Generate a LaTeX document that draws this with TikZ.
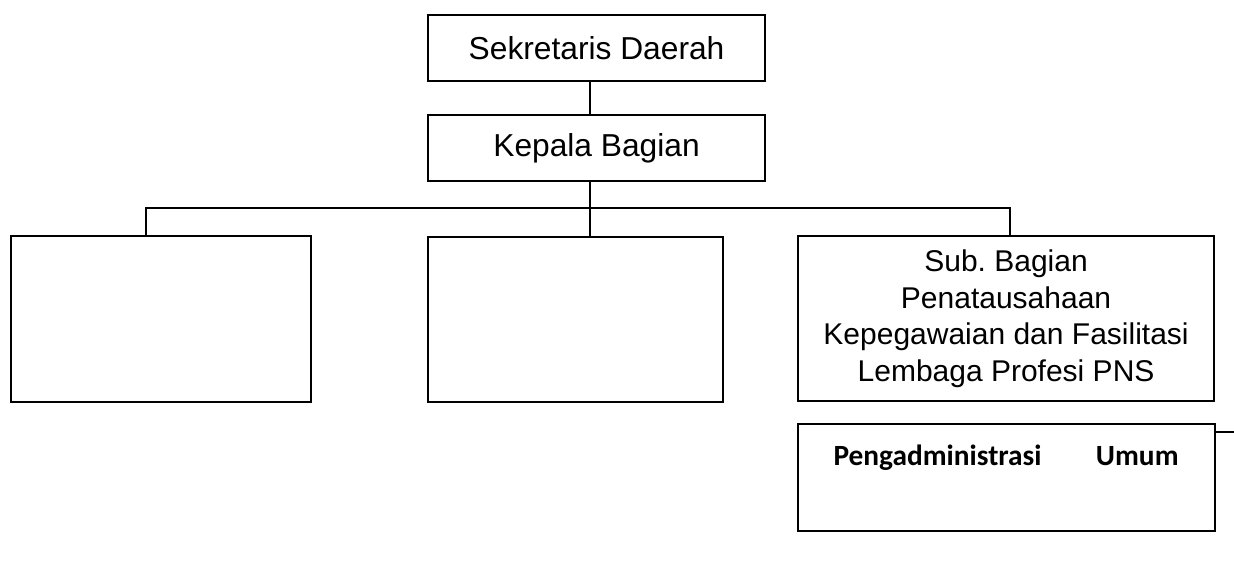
\documentclass[tikz,border=0pt]{standalone}
\usepackage{fontspec}
\setmainfont{Liberation Sans}
\newfontfamily\calibri{Carlito}
\usetikzlibrary{positioning}
\frenchspacing

\begin{document}
\begin{tikzpicture}[
	x = 0.75pt, y = -0.75pt, % pixel grid of the scan
	line width = 1.3pt, % connector style
	node distance = 24pt,
	B/.style={rectangle, draw=black, line width=1.6pt, inner sep=0pt, align=center, font=\fontsize{22.5}{27.5}\selectfont},  %boxes with text
	H/.style={B, minimum width=252.75pt, minimum height=49.5pt, font=\fontsize{23.8}{28}\selectfont},                     %top boxes
	E/.style={B, minimum width=225pt, minimum height=124.5pt},                                                          %empty boxes
	T/.style={inner sep=0pt, font=\calibri\bfseries\fontsize{22}{26}\selectfont},                                         %bold label
	]
	\useasboundingbox (0,0) rectangle (1234,562);

	% Nodes and their positions
	\node[H, anchor=north west] (sekda) at (427,14) {Sekretaris Daerah};
	\node[H] (kabag) [below = 24pt of sekda] {Kepala Bagian};
	\node[E, anchor=north west] (suba) at (10,235) {};
	\node[E, minimum width=221.25pt, minimum height=123.75pt, anchor=north west] (subb) at (427,236) {};
	\node[B, minimum width=312pt, minimum height=123.75pt, anchor=north west] (subc) at (797,235)
		{Sub. Bagian\\Penatausahaan\\Kepegawaian dan Fasilitasi\\Lembaga Profesi PNS};
	\node[B, minimum width=312.75pt, minimum height=80.25pt] (pengadm) [below = 15.75pt of subc] {};
	\node[T, anchor=north] (pengadmtext) [below = 16pt of pengadm.north]
		{\makebox[258.75pt]{Pengadministrasi\hfill Umum}};

	% Bus coordinates
	\coordinate (bus)  at (590,208);
	\coordinate (dropa) at (146,208);
	\coordinate (dropc) at (1010,208);
	\coordinate (tail) at (1234,432);

	% Paths connecting nodes
	\draw (sekda.south -| bus) -- (kabag.north -| bus);
	\draw (kabag.south -| bus) -- (subb.north -| bus);
	\draw (suba.north -| dropa) -- (dropa) -- (dropc) -- (subc.north -| dropc);
	\draw (pengadm.east |- tail) -- (tail);

\end{tikzpicture}
\end{document}
